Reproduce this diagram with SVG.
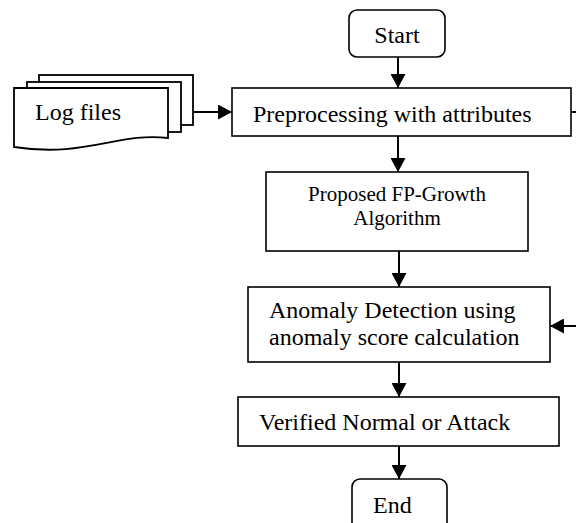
<svg xmlns="http://www.w3.org/2000/svg" width="576" height="523" viewBox="0 0 576 523">
<defs>
<style>
.box{fill:#fff;stroke:#000;stroke-width:1.6}
.doc{fill:#fff;stroke:#000;stroke-width:1.8}
.t{font-family:"Liberation Serif","Times New Roman",serif;font-size:24px;fill:#000}
.ts{font-family:"Liberation Serif","Times New Roman",serif;font-size:21px;fill:#000}
.c{stroke:#000;stroke-width:2;fill:none}
</style>
<marker id="ah" markerUnits="userSpaceOnUse" markerWidth="14" markerHeight="15" viewBox="0 0 13 14" refX="13" refY="7" orient="auto">
<path d="M0,0 L13,7 L0,14 Z" fill="#000"/>
</marker>
</defs>
<rect width="576" height="523" fill="#fff"/>
<g id="connectors">
<line class="c" x1="398" y1="57" x2="398" y2="88" marker-end="url(#ah)"/>
<line class="c" x1="193" y1="112" x2="232" y2="112" marker-end="url(#ah)"/>
<line class="c" x1="571" y1="112" x2="576" y2="112"/>
<line class="c" x1="398" y1="136" x2="398" y2="172" marker-end="url(#ah)"/>
<line class="c" x1="399" y1="251" x2="399" y2="287" marker-end="url(#ah)"/>
<line class="c" x1="576" y1="326" x2="550" y2="326" marker-end="url(#ah)"/>
<line class="c" x1="399" y1="362" x2="399" y2="397" marker-end="url(#ah)"/>
<line class="c" x1="399" y1="446" x2="399" y2="479" marker-end="url(#ah)"/>
</g>
<g id="start">
<rect class="box" x="349" y="10" width="96" height="47" rx="8"/>
<text class="t" x="397" y="43" text-anchor="middle">Start</text>
</g>
<g id="logfiles">
<rect class="doc" x="39" y="75" width="154" height="50"/>
<rect class="doc" x="27" y="82" width="154" height="50"/>
<path class="doc" d="M14,88 L168,88 L168,138 C118,132 85,158 14,147 Z"/>
<text class="t" x="35" y="120">Log files</text>
</g>
<g id="preprocessing">
<rect class="box" x="232" y="88" width="339" height="48"/>
<text class="t" x="253" y="122">Preprocessing with attributes</text>
</g>
<g id="fpgrowth">
<rect class="box" x="266" y="172" width="262" height="79"/>
<text class="ts" x="397" y="201" text-anchor="middle">Proposed FP-Growth</text>
<text class="ts" x="397" y="225" text-anchor="middle">Algorithm</text>
</g>
<g id="anomaly">
<rect class="box" x="248" y="287" width="302" height="75"/>
<text class="t" x="269" y="318">Anomaly Detection using</text>
<text class="t" x="269" y="345">anomaly score calculation</text>
</g>
<g id="verified">
<rect class="box" x="238" y="397" width="321" height="49"/>
<text class="t" x="259" y="430">Verified Normal or Attack</text>
</g>
<g id="end">
<rect class="box" x="352" y="479" width="95" height="52" rx="8"/>
<text class="t" x="373" y="513">End</text>
</g>
</svg>
